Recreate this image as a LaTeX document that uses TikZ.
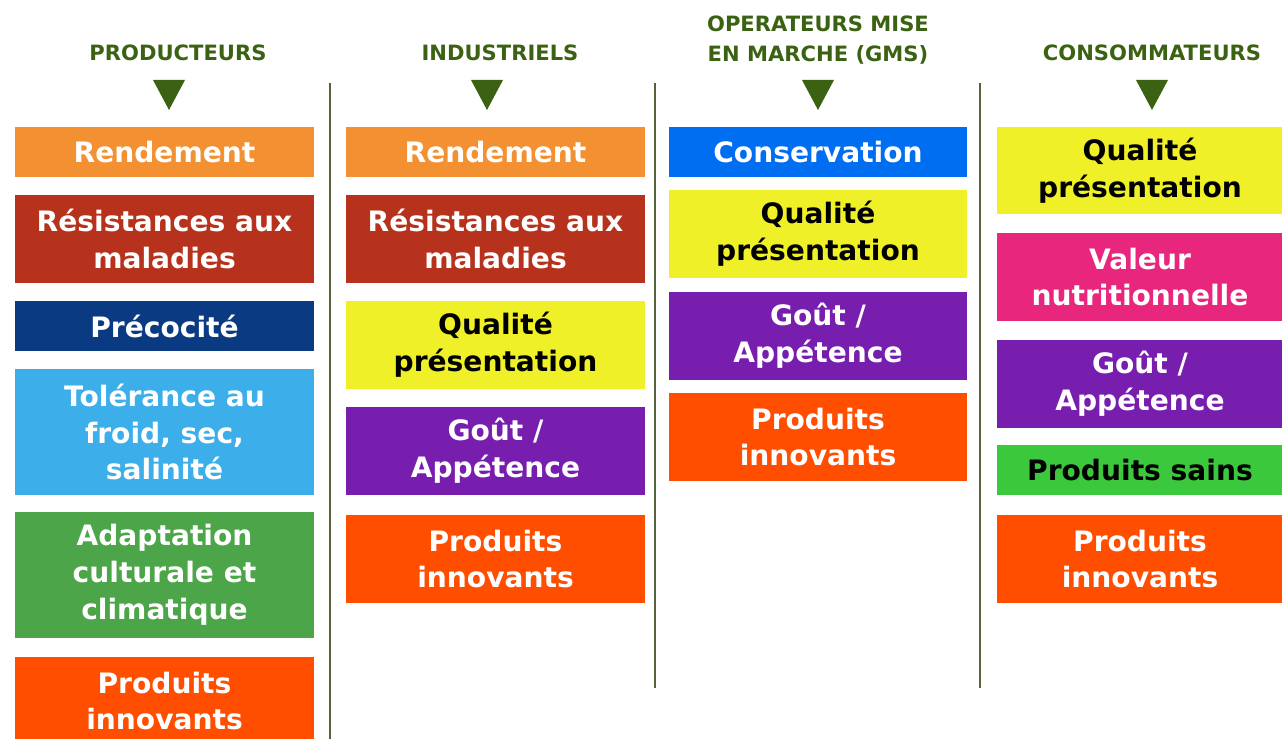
\documentclass[tikz,border=0pt]{standalone}
\usepackage{fontspec}
\setmainfont{DejaVu Sans}
\usepackage{tikz}
\usetikzlibrary{positioning}
\definecolor{hdgreen}{RGB}{58,98,18}
\definecolor{sepline}{RGB}{85,100,60}
\definecolor{orng}{RGB}{243,145,50}
\definecolor{brick}{RGB}{183,50,28}
\definecolor{navy}{RGB}{10,58,130}
\definecolor{sky}{RGB}{60,175,235}
\definecolor{leaf}{RGB}{76,165,72}
\definecolor{flame}{RGB}{255,78,0}
\definecolor{lemon}{RGB}{240,240,40}
\definecolor{grape}{RGB}{120,30,175}
\definecolor{azure}{RGB}{0,110,240}
\definecolor{rose}{RGB}{232,38,125}
\definecolor{lime}{RGB}{60,200,60}
\tikzset{head/.style = {text = hdgreen, align = center, inner sep = 0,
                        font = \fontsize{12}{17}\selectfont\bfseries}}
\tikzset{crit/.style = {text = white, align = center, inner sep = 0,
                        minimum width = 5.98cm,
                        font = \fontsize{16}{21}\selectfont\bfseries}}
\tikzset{dark/.style = {crit, text = black}}
\tikzset{row1/.style = {minimum height = 1cm}}
\tikzset{row2/.style = {minimum height = 1.76cm}}
\tikzset{row3/.style = {minimum height = 2.52cm}}
\tikzset{sep/.style = {draw = sepline, line width = 0.8pt}}
\tikzset{marker/.style = {fill = hdgreen}}
\begin{document}
\begin{tikzpicture}[x=0.02cm, y=-0.02cm]
      \clip (0, 0) rectangle (1282, 739);

      \node (hp) at (178, 53) [head] {PRODUCTEURS};
      \node (hi) at (500, 53) [head] {INDUSTRIELS};
      \node (hg) at (818, 40) [head] {OPERATEURS MISE\\EN MARCHE (GMS)};
      \node (hc) at (1152, 53) [head] {CONSOMMATEURS};

      \foreach \x in {169, 487, 818, 1152}
        \fill [marker] (\x - 16, 80) -- (\x + 16, 80) -- (\x, 110) -- cycle;

      \draw [sep] (330, 83) -- (330, 739);
      \draw [sep] (655, 83) -- (655, 688);
      \draw [sep] (980, 83) -- (980, 688);

      \node (p1) at (164.5, 152) [crit, row1, fill=orng] {Rendement};
      \node (p2) at (164.5, 239) [crit, row2, fill=brick] {Résistances aux\\maladies};
      \node (p3) at (164.5, 326) [crit, row1, fill=navy] {Précocité};
      \node (p4) at (164.5, 432) [crit, row3, fill=sky] {Tolérance au\\froid, sec,\\salinité};
      \node (p5) at (164.5, 575) [crit, row3, fill=leaf] {Adaptation\\culturale et\\climatique};
      \node (p6) at (164.5, 701) [crit, row2, fill=flame] {Produits\\innovants};

      \node (i1) at (495.5, 152) [crit, row1, fill=orng] {Rendement};
      \node (i2) at (495.5, 239) [crit, row2, fill=brick] {Résistances aux\\maladies};
      \node (i3) at (495.5, 345) [dark, row2, fill=lemon] {Qualité\\présentation};
      \node (i4) at (495.5, 451) [crit, row2, fill=grape] {Goût /\\Appétence};
      \node (i5) at (495.5, 559) [crit, row2, fill=flame] {Produits\\innovants};

      \node (g1) at (818, 152) [crit, row1, fill=azure] {Conservation};
      \node (g2) at (818, 234) [dark, row2, fill=lemon] {Qualité\\présentation};
      \node (g3) at (818, 336) [crit, row2, fill=grape] {Goût /\\Appétence};
      \node (g4) at (818, 437) [crit, row2, fill=flame] {Produits\\innovants};

      \node (c1) at (1140, 170.5) [dark, row2, minimum width=5.72cm, fill=lemon] {Qualité\\présentation};
      \node (c2) at (1140, 277) [crit, row2, minimum width=5.72cm, fill=rose] {Valeur\\nutritionnelle};
      \node (c3) at (1140, 384) [crit, row2, minimum width=5.72cm, fill=grape] {Goût /\\Appétence};
      \node (c4) at (1140, 470) [dark, row1, minimum width=5.72cm, fill=lime] {Produits sains};
      \node (c5) at (1140, 559) [crit, row2, minimum width=5.72cm, fill=flame] {Produits\\innovants};
    \end{tikzpicture}
\end{document}
